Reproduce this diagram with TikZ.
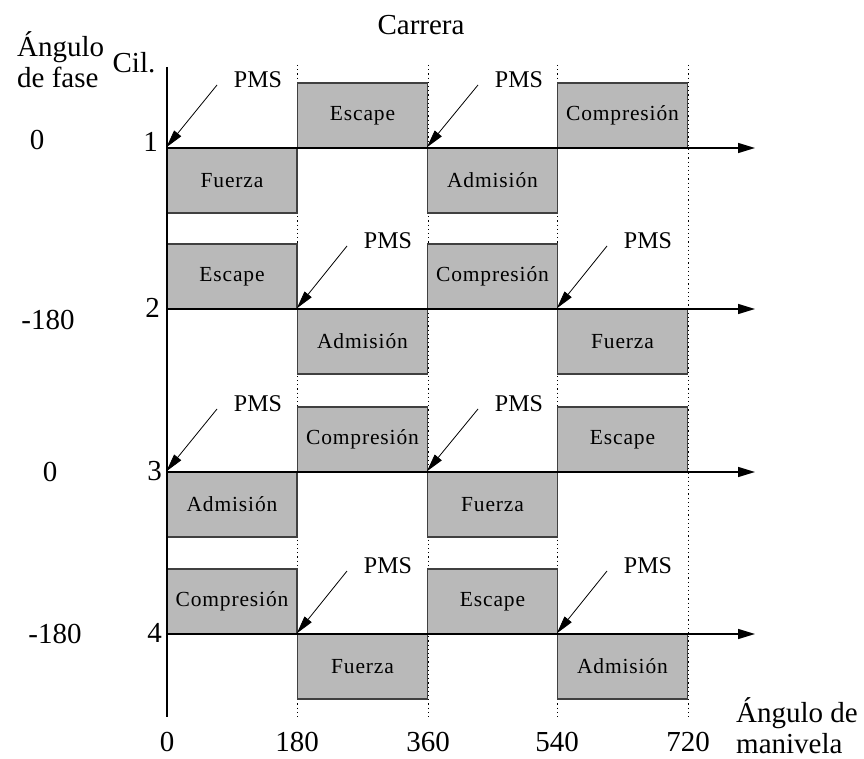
\documentclass[tikz,border=0pt]{standalone}
\usepackage{fontspec}
\setmainfont{Liberation Serif}
\usetikzlibrary{arrows.meta}

\begin{document}
\begin{tikzpicture}[x=1pt, y=-1pt,
                   every node/.style = {inner sep     = 0pt,
                                        text          = black},
                   stroke box/.style = {draw           = black!75,
                                        line width     = 1.3pt,
                                        fill           = gray!55,
                                        minimum width  = 130pt,
                                        minimum height = 65pt,
                                        font = \fontsize{21.5}{23}\selectfont\addfontfeature{LetterSpace=4}},
                   big label/.style  = {font  = \fontsize{29}{31}\selectfont,
                                        align = left},
                   pms label/.style  = {font = \fontsize{24}{26}\selectfont},
                   pms edge/.style   = {-{Triangle[length=18pt,width=9pt]},
                                        line width = 0.8pt},
                   axis edge/.style  = {-{Triangle[length=17pt,width=10pt]},
                                        line width = 1.4pt},
                   grid line/.style  = {line width   = 1pt,
                                        dash pattern = on 1.2pt off 3pt}]

\useasboundingbox (0,0) rectangle (864,759);

% grid : crank angles 0, 180, 360, 540, 720
\foreach \x in {297,428,557,688}
  { \draw[grid line] (\x,65) -- (\x,717); }

% the strokes : cylinder;half-turn
\node[stroke box] (1;0) at (232,180.5)   {Fuerza};
\node[stroke box] (1;1) at (362.5,115.5) {Escape};
\node[stroke box] (1;2) at (492.5,180.5) {Admisión};
\node[stroke box] (1;3) at (622.5,115.5) {Compresión};

\node[stroke box] (2;0) at (232,276.5)   {Escape};
\node[stroke box] (2;1) at (362.5,341.5) {Admisión};
\node[stroke box] (2;2) at (492.5,276.5) {Compresión};
\node[stroke box] (2;3) at (622.5,341.5) {Fuerza};

\node[stroke box] (3;0) at (232,504.5)   {Admisión};
\node[stroke box] (3;1) at (362.5,439.5) {Compresión};
\node[stroke box] (3;2) at (492.5,504.5) {Fuerza};
\node[stroke box] (3;3) at (622.5,439.5) {Escape};

\node[stroke box] (4;0) at (232,601.5)   {Compresión};
\node[stroke box] (4;1) at (362.5,666.5) {Fuerza};
\node[stroke box] (4;2) at (492.5,601.5) {Escape};
\node[stroke box] (4;3) at (622.5,666.5) {Admisión};

% axes
\coordinate (top) at (167,67);
\coordinate (bot) at (167,717);
\draw[line width=1.4pt] (top) -- (bot);
\foreach \c/\y in {1/148,2/309,3/472,4/634}
  { \coordinate (a\c) at (167,\y);
    \coordinate (e\c) at (755,\y);
    \draw[axis edge] (a\c) -- (e\c); }

% PMS marks
\foreach \c/\s/\x/\y in {1/0/167/148, 1/2/428/148,
                         2/1/297/309, 2/3/557/309,
                         3/0/167/472, 3/2/428/472,
                         4/1/297/634, 4/3/557/634}
  { \coordinate (t\c;\s) at (\x+50,\y-63);
    \node[pms label] (p\c;\s) at (\x+91,\y-68) {PMS};
    \draw[pms edge] (t\c;\s) -- (\c;\s.north west); }

% labels
\node[big label] (carrera) at (421,25) {Carrera};
\node[big label, anchor=west] (fase) at (17,60) {Ángulo\\de fase};
\node[big label] (cil) at (134,63) {Cil.};
\node[big label] (f1) at (37,140)  {0};
\node[big label] (f2) at (48,320)  {-180};
\node[big label] (f3) at (50,472)  {0};
\node[big label] (f4) at (55,634)  {-180};
\node[big label, anchor=east] (n1) at (158,142) {1};
\node[big label, anchor=east] (n2) at (160,308) {2};
\node[big label, anchor=east] (n3) at (162,471) {3};
\node[big label, anchor=east] (n4) at (162,633) {4};
\node[big label] (m0) at (167,742) {0};
\node[big label] (m1) at (297,742) {180};
\node[big label] (m2) at (428,742) {360};
\node[big label] (m3) at (557,742) {540};
\node[big label] (m4) at (688,742) {720};
\node[big label, anchor=west] (manivela) at (736,726) {Ángulo de\\manivela};
\end{tikzpicture}
\end{document}
